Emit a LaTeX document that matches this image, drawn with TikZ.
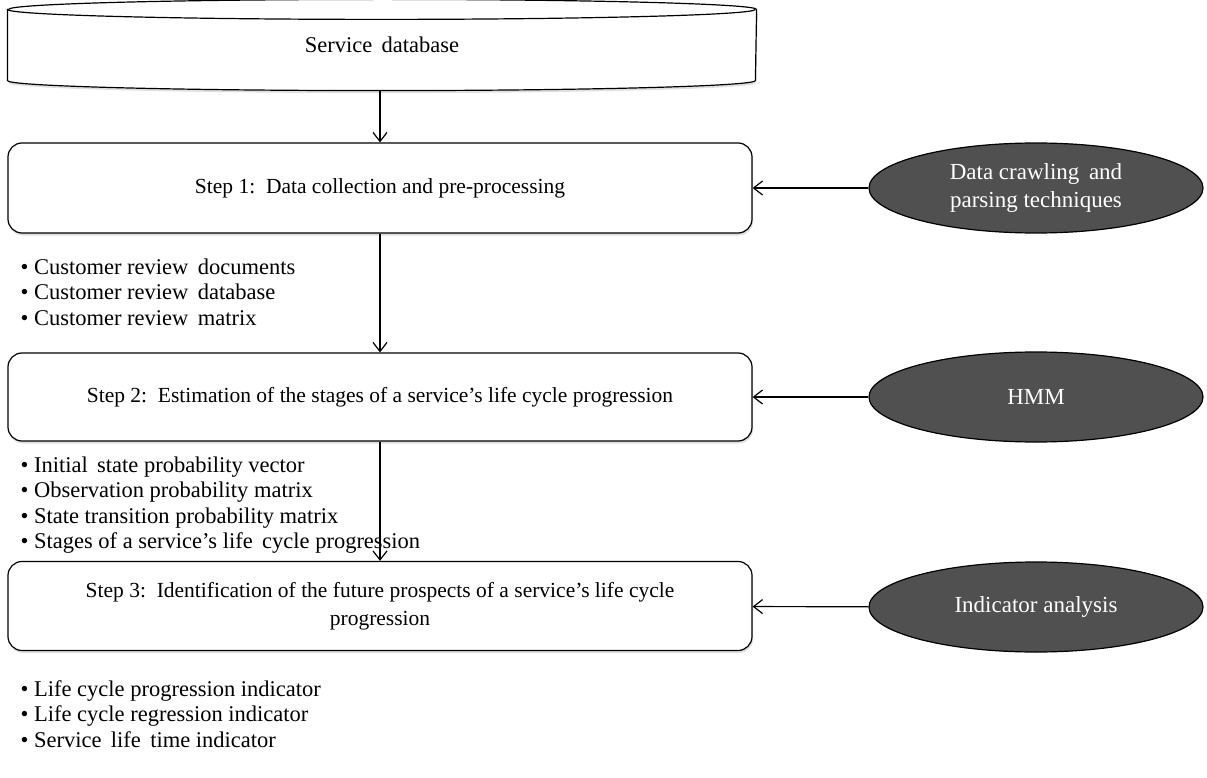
\documentclass[tikz,border=0pt]{standalone}
\usepackage{fontspec}
\setmainfont{Liberation Serif}
\usetikzlibrary{shapes.geometric,arrows.meta,shadows}
\definecolor{toolgray}{RGB}{80,80,80}

\begin{document}
\begin{tikzpicture}[x=1pt, y=1pt, line width=1.2pt,
  shade/.style={drop shadow={opacity=0.25, shadow xshift=1pt, shadow yshift=-2.5pt}},
  stepbox/.style={rectangle, draw, rounded corners=14pt, fill=white, shade,
               minimum width=744pt, align=center,
               font=\fontsize{21.5}{28}\selectfont},
  tool/.style={ellipse, draw, fill=toolgray, text=white, minimum width=334pt,
               minimum height=90pt, align=center, font=\fontsize{23}{28}\selectfont},
  items/.style={anchor=west, align=left, inner sep=0pt, font=\fontsize{22.5}{25.5}\selectfont},
  arrow/.style={-{Straight Barb[length=9pt, width=14pt]}}
]
  \useasboundingbox (0,0) rectangle (1207,-778);

  % database
  \node[minimum width=748pt, minimum height=90pt, inner sep=0pt] (db) at (382,-45) {};
  \draw[fill=white, shade]
    ([yshift=-10pt]db.north west) -- ([yshift=10pt]db.south west)
    arc[start angle=180, end angle=360, x radius=374pt, y radius=10pt]
    -- ([yshift=-10pt]db.north east)
    arc[start angle=0, end angle=180, x radius=374pt, y radius=10pt] -- cycle;
  \draw ([yshift=-10pt]db.north west)
    arc[start angle=180, end angle=360, x radius=374pt, y radius=10pt];
  \node[font=\fontsize{22.5}{26}\selectfont] (dbtext) at (db.center) {Service\, database};

  % steps
  \node[stepbox, minimum height=90pt] (s1) at (380,-188) {Step 1:\, Data collection and pre-processing};
  \node[stepbox, minimum height=88pt] (s2) at (380,-397) {Step 2:\, Estimation of the stages of a service’s life cycle progression};
  \node[stepbox, minimum height=89pt] (s3) at (380,-606) {Step 3:\, Identification of the future prospects of a service’s life cycle\\progression};

  % techniques
  \node[tool] (e1) at (1036,-188) {Data crawling\, and\\parsing techniques};
  \node[tool] (e2) at (1036,-397) {HMM};
  \node[tool] (e3) at (1036,-607) {Indicator analysis};

  % outputs
  \node[items] (b1) at (20,-292) {\textbullet\ Customer review\, documents\\\textbullet\ Customer review\, database\\\textbullet\ Customer review\, matrix};
  \node[items] (b2) at (20,-505) {\textbullet\ Initial\, state probability vector\\\textbullet\ Observation probability matrix\\\textbullet\ State transition probability matrix\\\textbullet\ Stages of a service’s life\, cycle progression};
  \node[items] (b3) at (20,-714) {\textbullet\ Life cycle progression indicator\\\textbullet\ Life cycle regression indicator\\\textbullet\ Service\, life\, time indicator};

  \draw[arrow] (db.south -| s1.north) -- (s1.north);
  \draw[arrow] (s1) -- (s2);
  \draw[arrow] (s2) -- (s3);
  \draw[arrow] (e1) -- (s1);
  \draw[arrow] (e2) -- (s2);
  \draw[arrow] (e3) -- (s3);
\end{tikzpicture}
\end{document}
